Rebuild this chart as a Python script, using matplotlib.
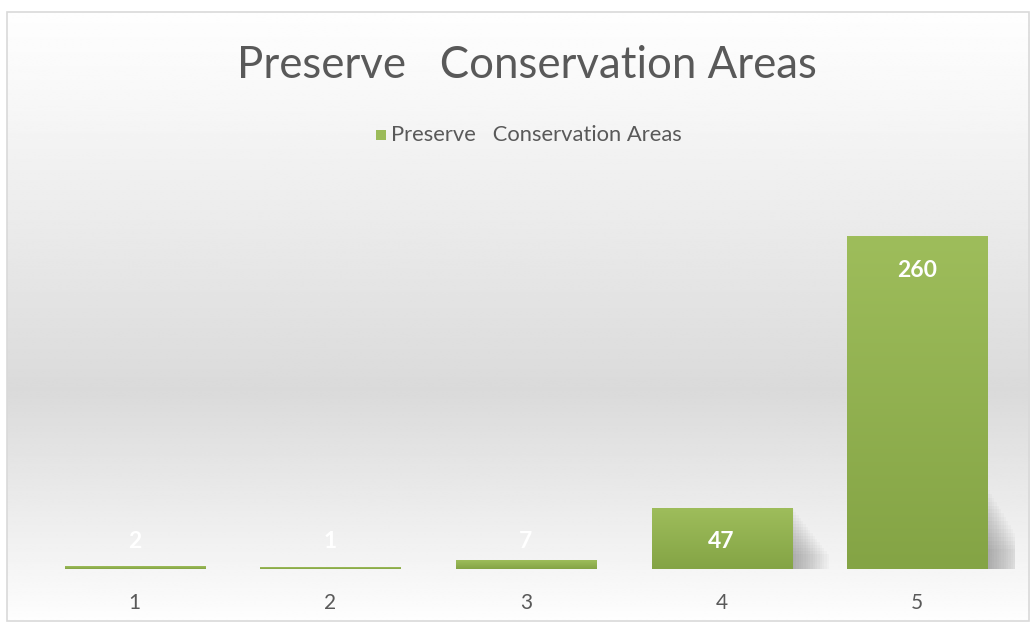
"""column chart of preserve / conservation areas, office-style look"""

import matplotlib.pyplot as plt
import matplotlib.patches
import numpy

CATEGORIES = ['1', '2', '3', '4', '5']
VALUES = [2, 1, 7, 47, 260]
TITLE = 'Preserve   Conservation Areas'
SERIES_NAME = 'Preserve   Conservation Areas'

W, H = 1030, 624
TEXT_GRAY = '#595959'
GREEN_TOP = numpy.array([0x9e, 0xbd, 0x5b]) / 255
GREEN_BOT = numpy.array([0x84, 0xa4, 0x45]) / 255

plt.rcParams['font.family'] = ['Lato', 'DejaVu Sans']

fig = plt.figure(figsize=(W / 100, H / 100), dpi=100)

# background: white -> grey -> white, with a thin frame
bg = fig.add_axes([0, 0, 1, 1], zorder=0)
bg.set_xlim(0, W)
bg.set_ylim(H, 0)
bg.axis('off')
rows = numpy.linspace(0, 1, 300)
shade = numpy.interp(rows, [0, 0.12, 0.62, 0.9, 1],
                     [0.995, 0.975, 0.855, 0.955, 0.995])
bg.imshow(numpy.repeat(shade[:, None], 2, axis=1), cmap='gray', vmin=0, vmax=1,
          extent=[7, W, 622, 12], aspect='auto', interpolation='bilinear')
bg.add_patch(matplotlib.patches.Rectangle(
    (7, 12), W - 8, 609, fill=False, edgecolor='#d9d9d9', linewidth=1.2))

bg.text(527, 66, TITLE, ha='center', va='center', fontsize=31.5,
        color=TEXT_GRAY)
bg.add_patch(matplotlib.patches.Rectangle(
    (376, 130), 10, 10, facecolor='#9bbb59', edgecolor='none'))
bg.text(391, 135, SERIES_NAME, ha='left', va='center', fontsize=15.8,
        color=TEXT_GRAY)

# plot area
x0, x1 = 37, 1015
y_base, y_top = 569, 185
ax = fig.add_axes([x0 / W, 1 - y_base / H, (x1 - x0) / W, (y_base - y_top) / H],
                  zorder=1)
ax.patch.set_alpha(0)
ax.set_xlim(-0.5, len(VALUES) - 0.5)
ax.set_ylim(0, 300)
for side in ax.spines.values():
    side.set_visible(False)
ax.set_yticks([])
ax.set_xticks(range(len(CATEGORIES)))
ax.set_xticklabels(CATEGORIES, fontsize=15, color=TEXT_GRAY)
ax.tick_params(axis='x', length=0, pad=17)

bar_w = 0.716
grad = numpy.linspace(0, 1, 100)[:, None, None]
green_img = GREEN_BOT * (1 - grad) + GREEN_TOP * grad
px_per_unit = (y_base - y_top) / 300
for i, val in enumerate(VALUES):
    left = i - bar_w / 2
    # soft shadow to the lower right
    sh_h = min(val, 62)
    if val > 20:
        for k in range(16):
            ax.add_patch(matplotlib.patches.Rectangle(
                (left + bar_w, 0), 0.012 * (k + 1), sh_h * (1 - k / 20),
                facecolor='black', edgecolor='none', alpha=0.018, zorder=1))
    ax.imshow(green_img, extent=[left, left + bar_w, 0, val], origin='lower',
              aspect='auto', interpolation='bilinear', zorder=2)
    top_px = y_base - val * px_per_unit
    lab_px = min(top_px + 34, y_base - 28)
    ax.annotate(str(val), (i, 0), xytext=(0, (y_base - lab_px) * 0.72),
                textcoords='offset points', ha='center', va='center',
                fontsize=16.5, fontweight='bold', color='white', zorder=3)

ax.set_xlim(-0.5, len(VALUES) - 0.5)
ax.set_ylim(0, 300)

fig.savefig('out.png', dpi=100)
